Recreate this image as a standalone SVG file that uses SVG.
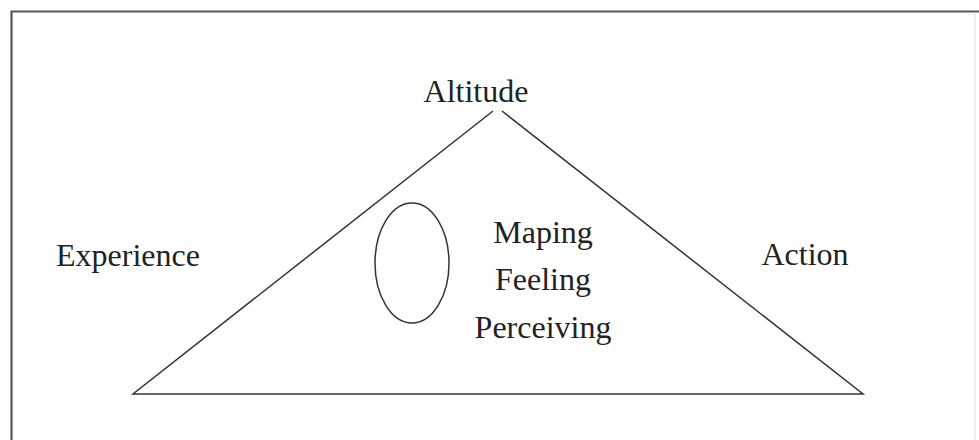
<svg xmlns="http://www.w3.org/2000/svg" width="979" height="440" viewBox="0 0 979 440">
<style>
  .t { font-family: "Liberation Serif", "Times New Roman", serif; font-size: 32px; fill: #222; text-anchor: middle; }
  .ln { stroke: #333; stroke-width: 1.5; fill: none; }
</style>
<rect width="979" height="440" fill="#fff"/>
<g id="frame">
  <path d="M11.5,440 V11.5 H979" stroke="#555" stroke-width="2.2" fill="none"/>
  <path d="M975,12 V440" stroke="#ddd" stroke-width="1" fill="none"/>
</g>
<g id="connectors">
  <path class="ln" d="M493,111 L133,394 L863,394 L502,111"/>
</g>
<g id="ellipse">
  <ellipse cx="412" cy="263" rx="37" ry="60" class="ln"/>
</g>
<g id="altitude"><text class="t" x="476" y="102">Altitude</text></g>
<g id="experience"><text class="t" x="128" y="266">Experience</text></g>
<g id="action"><text class="t" x="805" y="265">Action</text></g>
<g id="maping"><text class="t" x="543" y="243">Maping</text></g>
<g id="feeling"><text class="t" x="543" y="290">Feeling</text></g>
<g id="perceiving"><text class="t" x="543" y="338">Perceiving</text></g>
</svg>
